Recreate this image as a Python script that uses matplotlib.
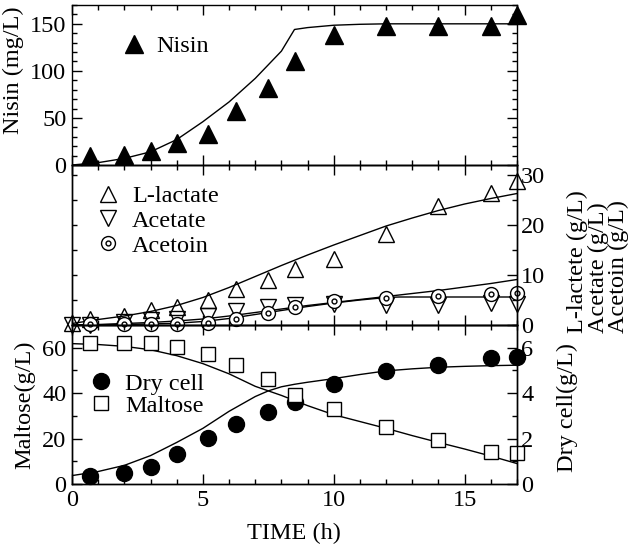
import matplotlib
matplotlib.use('Agg')
import matplotlib.pyplot as plt
from matplotlib.ticker import MultipleLocator

plt.rcParams['font.family'] = ['Liberation Serif', 'DejaVu Serif']
plt.rcParams['font.size'] = 17.5

# measured points
time = [0.7, 2, 3, 4, 5.2, 6.25, 7.5, 8.5, 10, 12, 14, 16, 17]
nisin = [10, 11, 15, 23, 33, 57, 82, 111, 138, 148, 148, 148, 159]
time0 = [0, 0.7, 2, 3, 4, 5.2, 6.25, 7.5, 8.5, 10, 12, 14, 16, 17]
lactate = [0.4, 1.3, 1.8, 3.0, 3.7, 5.0, 7.3, 9.1, 11.2, 13.2, 18.3, 23.8, 26.3, 28.7]
acetate = [0, 0.1, 0.6, 1.0, 1.2, 1.8, 2.8, 3.6, 4.1, 4.3, 4.1, 4.1, 4.4, 4.3]
acetoin = [0.3, 0.3, 0.3, 0.3, 0.5, 1.2, 2.5, 3.6, 4.8, 5.4, 5.9, 6.3, 6.4]
maltose = [62.2, 62.2, 62.2, 60.5, 57.1, 52.3, 46.1, 39.1, 32.9, 24.9, 19.3, 13.9, 13.5]
drycell = [0.37, 0.48, 0.73, 1.32, 2.03, 2.64, 3.15, 3.59, 4.39, 4.98, 5.24, 5.56, 5.59]

# model curves
t_nis = [0, 1, 2, 3, 4, 5, 6, 7, 8, 8.5, 9, 10, 11, 12, 14, 17]
m_nis = [0, 2.5, 7, 14, 27, 46, 67, 92, 121, 144, 146, 148.5, 149.5, 150, 150, 150]
t_h = list(range(18))
m_lac = [0.3, 1.1, 1.8, 2.7, 3.9, 5.5, 7.5, 9.7, 11.9, 14.0, 16.0, 17.9, 19.8, 21.4, 22.9, 24.2, 25.3, 26.3]
m_ace = [0, 0.1, 0.3, 0.5, 0.8, 1.2, 1.8, 2.5, 3.2, 3.9, 4.5, 5.1, 5.7, 6.3, 6.9, 7.6, 8.3, 9.1]
t_aco = [0, 1, 2, 3, 4, 5, 6, 7, 8, 9, 10, 11, 12, 12.5, 17]
m_aco = [0, 0.05, 0.1, 0.2, 0.35, 0.7, 1.3, 2.1, 2.9, 3.7, 4.4, 5.0, 5.5, 5.6, 5.6]
t_dry = [0, 1, 2, 3, 4, 5, 6, 7, 7.5, 8, 8.5, 9, 10, 11, 12, 13, 14, 15, 16, 17]
m_dry = [0.37, 0.55, 0.82, 1.25, 1.83, 2.45, 3.2, 3.85, 4.1, 4.28, 4.39, 4.48, 4.64, 4.82, 4.98, 5.07, 5.14, 5.18, 5.21, 5.23]
m_mal = [61.8, 61.4, 60.6, 59.1, 56.5, 53.0, 48.5, 43.0, 39.0, 34.5, 30.5, 27.5, 24.5, 21.3, 18.3, 15.4, 12.3, 9.0]

fig = plt.figure(figsize=(6.29, 5.51), dpi=100)
L, W = 72 / 629, 445 / 629


def rect(top, bot):
    return [L, 1 - bot / 551, W, (bot - top) / 551]


ax_n = fig.add_axes(rect(5, 165))
ax_m = fig.add_axes(rect(165, 325))
ax_b = fig.add_axes(rect(325, 484))
ax_mr = ax_m.twinx()
ax_bd = ax_b.twinx()
for a in (ax_n, ax_m, ax_b, ax_mr, ax_bd):
    a.patch.set_visible(False)
    for s in a.spines.values():
        s.set_linewidth(1)
ax_b.set_zorder(ax_bd.get_zorder() + 1)


def style_x(ax, labels=False):
    ax.set_xlim(0, 17)
    ax.xaxis.set_major_locator(MultipleLocator(5))
    ax.xaxis.set_minor_locator(MultipleLocator(1))
    ax.tick_params(axis='x', which='both', direction='in', top=True, bottom=True,
                   labelbottom=labels, pad=4.5, width=1)
    ax.tick_params(axis='x', which='major', length=7)
    ax.tick_params(axis='x', which='minor', length=3.5)


def style_y(ax, lo, hi, major, minor, side, labels=True):
    ax.set_ylim(lo, hi)
    ax.yaxis.set_major_locator(MultipleLocator(major))
    ax.yaxis.set_minor_locator(MultipleLocator(minor))
    left = side in ('left', 'both')
    right = side in ('right', 'both')
    ax.tick_params(axis='y', which='both', direction='in', left=left, right=right,
                   labelleft=labels and left, labelright=labels and side == 'right',
                   width=1, pad=4 if left else 3)
    ax.tick_params(axis='y', which='major', length=7)
    ax.tick_params(axis='y', which='minor', length=3.5)


style_x(ax_n)
style_x(ax_m)
style_x(ax_b, labels=True)
style_y(ax_n, 0, 170, 50, 10, 'both')
style_y(ax_m, 0, 32, 5, 5, 'left', labels=False)
ax_m.tick_params(axis='y', which='major', length=3.5)
style_y(ax_mr, 0, 32, 10, 5, 'right')
style_y(ax_b, 0, 70, 20, 10, 'left')
style_y(ax_bd, 0, 7, 2, 1, 'right')

# nisin
ax_n.plot(t_nis, m_nis, color='k', lw=1)
hn, = ax_n.plot(time, nisin, '^', color='k', ms=13, clip_on=False, label='Nisin')
ax_n.legend(handles=[hn], loc='upper left', bbox_to_anchor=(0.111, 0.81), frameon=False,
            borderpad=0, borderaxespad=0, handlelength=1.0, handletextpad=0.45)

# acids
ax_m.plot(t_h, m_lac, color='k', lw=1)
ax_m.plot(t_h, m_ace, color='k', lw=1)
ax_m.plot(t_aco, m_aco, color='k', lw=1)
h_ace, = ax_m.plot(time0, acetate, 'v', mfc='none', mec='k', mew=1, ms=12, clip_on=False)
h_lac, = ax_m.plot(time0, lactate, '^', mfc='none', mec='k', mew=1, ms=12, clip_on=False)
h_aco1, = ax_m.plot(time, acetoin, 'o', mfc='white', mec='k', mew=1, ms=10, clip_on=False)
h_aco2, = ax_m.plot(time, acetoin, 'o', mfc='none', mec='k', mew=1, ms=3.5, clip_on=False)
ax_mr.legend(handles=[h_lac, h_ace, (h_aco1, h_aco2)], labels=['L-lactate', 'Acetate', 'Acetoin'],
             loc='upper left', bbox_to_anchor=(0.053, 0.875), frameon=False, borderpad=0,
             borderaxespad=0, handlelength=1.0, handletextpad=0.5, labelspacing=0.12)

# cells and maltose
ax_bd.plot(t_dry, m_dry, color='k', lw=1)
h_dry, = ax_bd.plot(time, drycell, 'o', color='k', ms=11.5, clip_on=False)
ax_b.plot(t_h, m_mal, color='k', lw=1)
h_mal, = ax_b.plot(time, maltose, 's', mfc='white', mec='k', mew=1, ms=10.5, clip_on=False)
ax_b.legend(handles=[h_dry, h_mal], labels=['Dry cell', 'Maltose'], loc='upper left',
            bbox_to_anchor=(0.037, 0.70), frameon=False, borderpad=0, borderaxespad=0,
            handlelength=1.0, handletextpad=0.5, labelspacing=0.0)

fig.text(13 / 629, 1 - 70 / 551, 'Nisin (mg/L)', rotation=90, ha='center', va='center')
fig.text(598 / 629, 1 - 262 / 551, 'L-lactete (g/L)\nAcetate (g/L)\nAcetoin (g/L)',
         rotation=90, ha='center', va='center', multialignment='left', linespacing=0.95)
fig.text(25 / 629, 1 - 405 / 551, 'Maltose(g/L)', rotation=90, ha='center', va='center')
fig.text(567 / 629, 1 - 408 / 551, 'Dry cell(g/L)', rotation=90, ha='center', va='center')
fig.text(294 / 629, 1 - 533 / 551, 'TIME (h)', ha='center', va='center')

fig.savefig('out.png', dpi=100)
